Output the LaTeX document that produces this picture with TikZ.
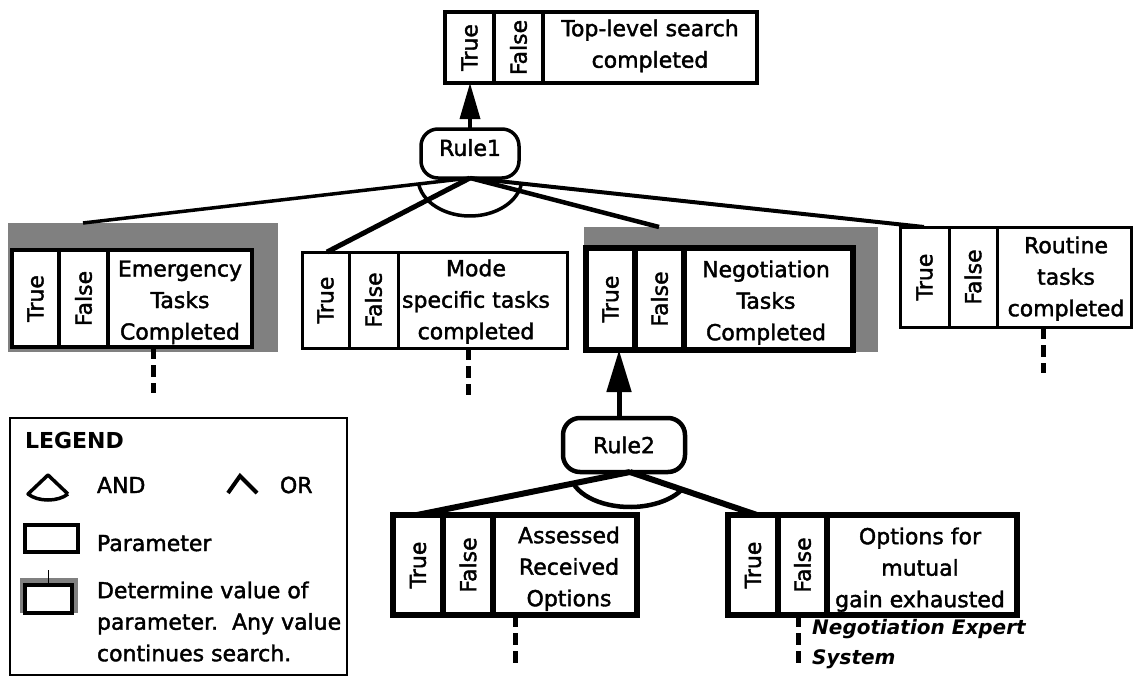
\documentclass[tikz,border=0pt]{standalone}
\usepackage{fontspec}
\setmainfont{DejaVu Sans}[UprightFeatures={FakeBold=1.8}]
\usetikzlibrary{arrows.meta}

% Parameter box: #1 extra style, #2 name, #3 left, #4 top, #5 right, #6 bottom,
% #7 and #8 the x positions of the two column dividers
\newcommand\tfbox[8]{%
  \node[pframe,#1,minimum width={(#5)-(#3)},minimum height={(#6)-(#4)}] (#2) at (#3,#4) {};
  \draw[#1] (#7,#4) -- (#7,#6) (#8,#4) -- (#8,#6);
  \node[tf] (#2-true) at ({(#3+#7)/2},{(#4+#6)/2}) {True};
  \node[tf] (#2-false) at ({(#7+#8)/2},{(#4+#6)/2}) {False};
}

\begin{document}
\begin{tikzpicture}[x=1pt,y=-1pt,
  lbl/.style={font=\fontsize{22}{31.5}\selectfont, inner sep=0pt, outer sep=0pt},
  tf/.style={lbl, rotate=90},
  ptext/.style={lbl, align=center, anchor=north},
  pframe/.style={draw, rectangle, fill=white, inner sep=0pt, outer sep=0pt, anchor=north west},
  stipple/.style={fill=black!50, draw=none},
  rulenode/.style={draw, rectangle, rounded corners=17pt, fill=white, lbl},
  trail/.style={line width=5pt, dash pattern=on 12pt off 6pt},
  legtext/.style={lbl, anchor=base west},
]
\useasboundingbox (0,0) rectangle (1134,677);

% shaded backgrounds of the parameters whose value is determined
\fill[stipple] (8,223) rectangle (278,352);
\fill[stipple] (584,227) rectangle (878,352);

% parameter boxes
\tfbox{line width=3.5pt}{top}{445}{12}{757}{83}{494}{543}
\tfbox{line width=4pt}{emg}{12}{250}{252}{347}{59}{108}
\tfbox{line width=3pt}{mode}{302}{252}{567}{348}{349}{398}
\tfbox{line width=5.5pt}{neg}{586}{248}{853}{350}{635}{684}
\tfbox{line width=3pt}{rout}{900}{227}{1131}{327}{949}{997}
\tfbox{line width=5.5pt}{ass}{393}{515}{637}{615}{443}{493}
\tfbox{line width=5.5pt}{opt}{728}{515}{1017}{615}{778}{827}

\node[ptext] (top-txt) at (650,19.5) {Top-level search\\completed};
\node[ptext] (emg-txt) at (180,260.5) {Emergency\\Tasks\\Completed};
\node[ptext] (mode-txt) at (476,259.5) {Mode\\specific tasks\\completed};
\node[ptext] (neg-txt) at (766,260.5) {Negotiation\\Tasks\\Completed};
\node[ptext] (rout-txt) at (1066,236.5) {Routine\\tasks\\completed};
\node[ptext] (ass-txt) at (569,526.5) {Assessed\\Received\\Options};
\node[ptext] (opt-txt) at (920,527.5) {Options for\\mutual\\gain exhausted};

% rules
\node[rulenode, minimum width=98pt, minimum height=49pt, line width=3.5pt, text depth=12pt] (rule1) at (470,153.5) {Rule1};
\node[rulenode, minimum width=122pt, minimum height=54pt, line width=4.5pt] (rule2) at (624,445) {Rule2};

% Rule1: conclusion and AND-ed premises
\draw[line width=3.5pt, -{Triangle[length=36pt,width=20pt]}] (rule1.north) -- (rule1.north |- top.south);
\coordinate (emg-in) at (83,223);
\coordinate (neg-in) at (659,227);
\draw[line width=3.5pt] (rule1.south) -- (emg-in);
\draw[line width=5pt] (rule1.south) -- ([xshift=25pt]mode.north west);
\draw[line width=4.5pt] (rule1.south) -- (neg-in);
\draw[line width=4pt] (rule1.south) -- ([xshift=24pt]rout.north west);
\draw[line width=3.5pt] (rule1.south) ++(170:52 and 38) arc[start angle=170, end angle=10, x radius=52, y radius=38];

% Rule2: conclusion and AND-ed premises
\coordinate (r2apex) at ([xshift=6pt]rule2.south);
\draw[line width=5pt, -{Triangle[length=42pt,width=24pt]}] ([xshift=-5pt]rule2.north) -- ([xshift=-5pt]rule2.north |- neg.south);
\draw[line width=6pt] (r2apex) -- ([xshift=24pt]ass.north west);
\draw[line width=6pt] (r2apex) -- ([xshift=29pt]opt.north west);
\draw[line width=4.5pt] (r2apex) ++(161:60 and 35) arc[start angle=161, end angle=30, x radius=60, y radius=35];

% search continues below these parameters
\coordinate (emg-end) at (153,393);
\coordinate (mode-end) at (468,395);
\coordinate (rout-end) at (1043,373);
\coordinate (ass-end) at (515,665);
\coordinate (opt-end) at (798,668);
\draw[trail] (emg-end |- emg.south) -- (emg-end);
\draw[trail] (mode-end |- mode.south) -- (mode-end);
\draw[trail] (rout-end |- rout.south) -- (rout-end);
\draw[trail] (ass-end |- ass.south) -- (ass-end);
\draw[trail] (opt-end |- opt.south) -- (opt-end);

\node[anchor=north west, align=left, inner sep=0pt, font=\bfseries\itshape\fontsize{20}{30}\selectfont] (nes) at (812,619.5) {Negotiation Expert\\System};

% legend
\node[pframe, line width=2.5pt, minimum width=337pt, minimum height=257pt] (legend) at (10,418) {};
\node[legtext, font=\bfseries\fontsize{22}{31.5}\selectfont] (lg-title) at (25,448) {LEGEND};
\draw[line width=3.5pt, line join=round] (68,494) -- (48,475) -- (28,494) .. controls (38,502) and (58,502) .. (68,494);
\node[legtext] (lg-and) at (97,493) {AND};
\draw[line width=4pt] (228,493) -- (240,476) -- (257,493);
\node[legtext] (lg-or) at (280,493) {OR};
\node[pframe, line width=3.5pt, minimum width=53pt, minimum height=27pt] (lg-param) at (25,525) {};
\node[legtext] (lg-param-txt) at (97,551) {Parameter};
\fill[stipple] (20,578) rectangle (78,613);
\node[pframe, line width=3.5pt, minimum width=47pt, minimum height=28pt] (lg-det) at (25,585) {};
\coordinate (lg-tick) at (48.5,570);
\draw[line width=1.5pt] (lg-tick) -- (lg-det.north);
\node[lbl, anchor=north west, align=left] (lg-det-txt) at (97,581.5) {Determine value of\\parameter.\ \ Any value\\continues search.};
\end{tikzpicture}
\end{document}
